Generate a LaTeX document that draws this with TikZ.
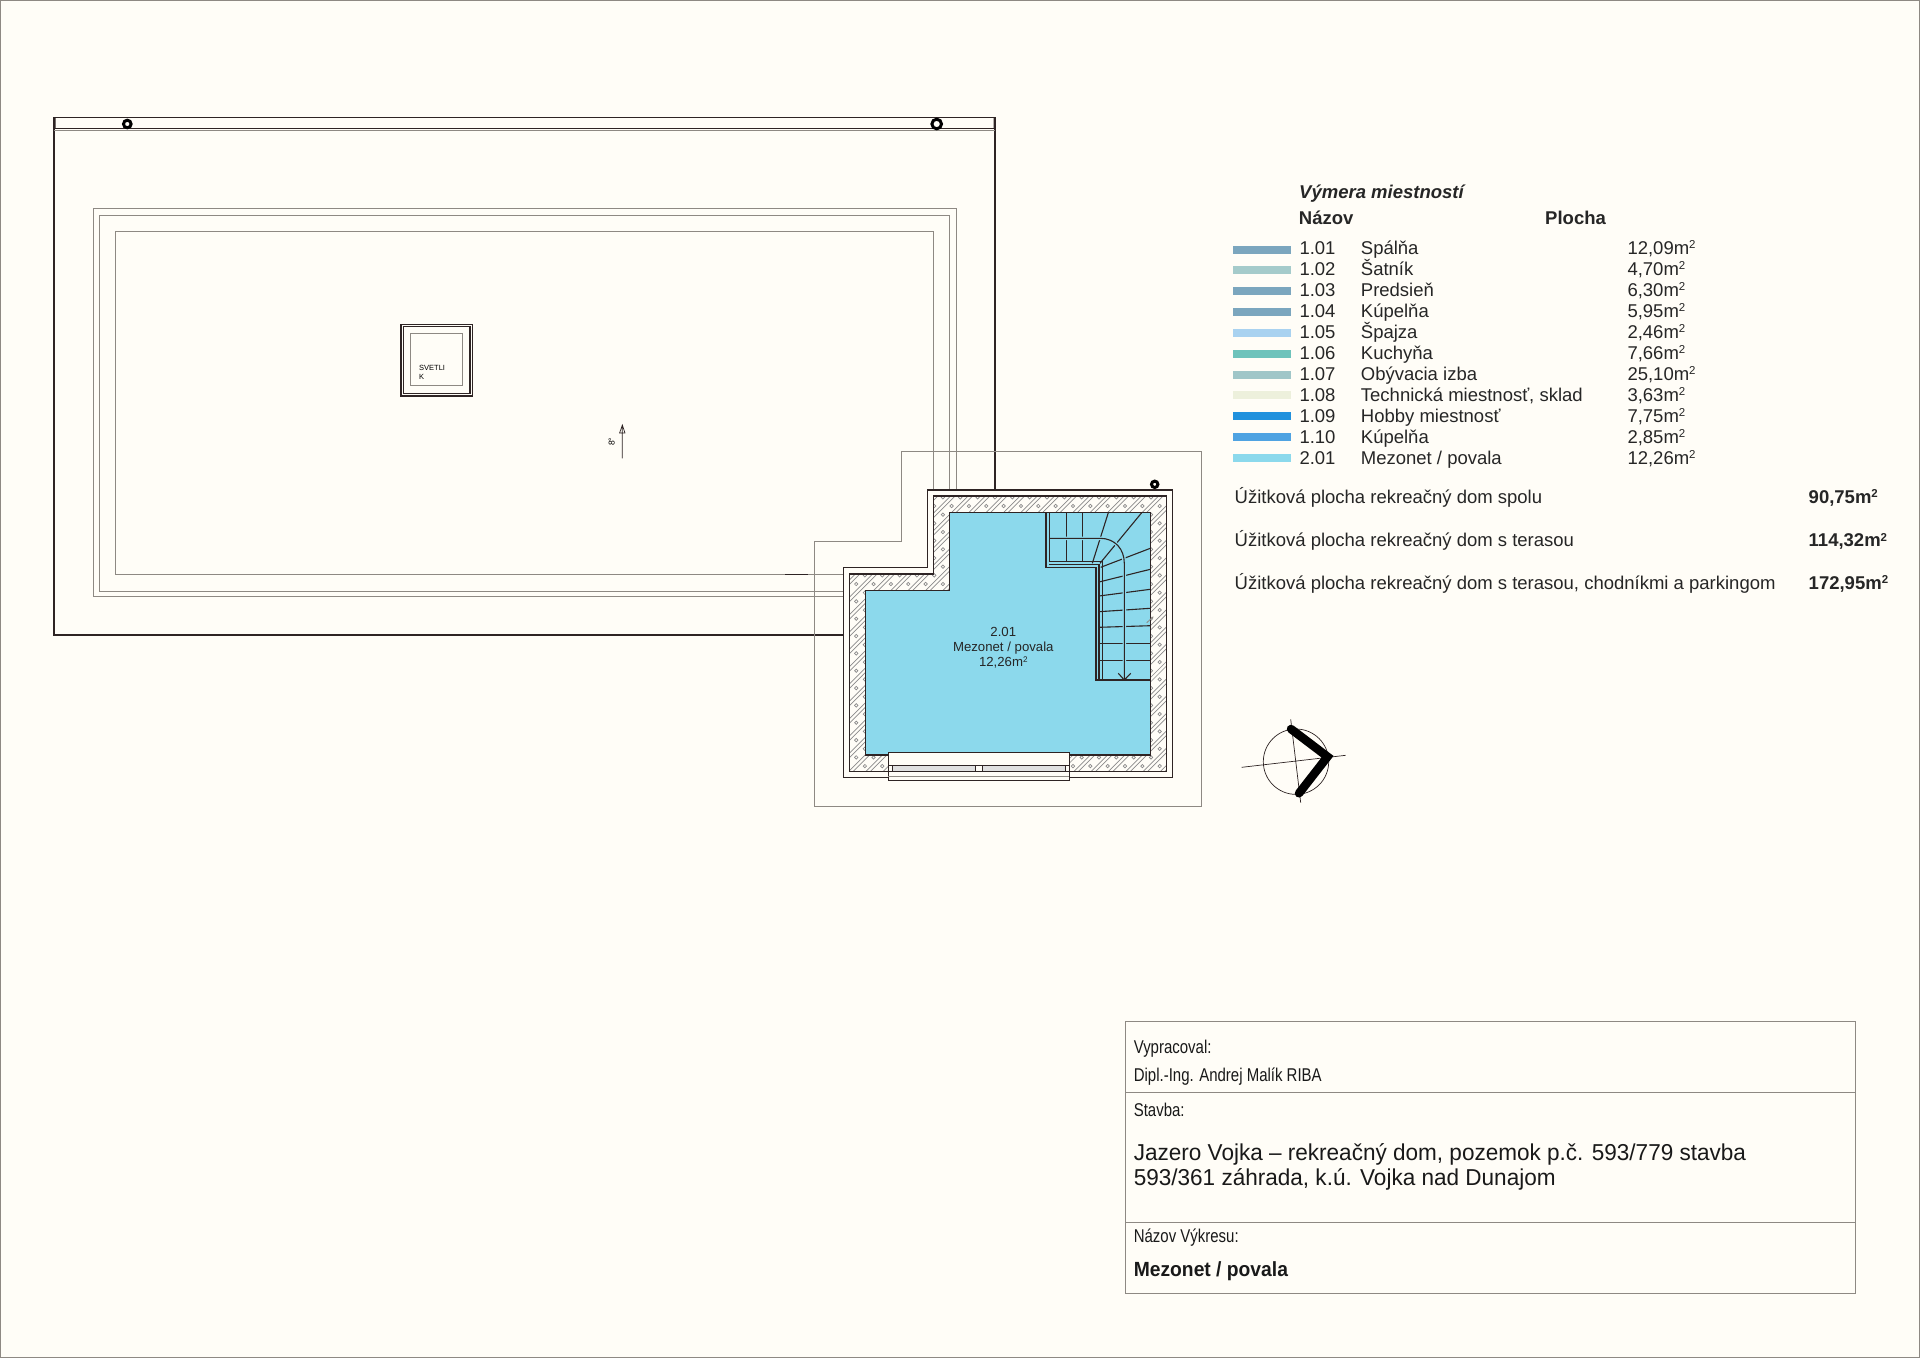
\documentclass[tikz,border=0pt]{standalone}
\usepackage{fontspec}
\setmainfont{Liberation Sans}
\newfontfamily\blockfont[FakeStretch=0.81]{Liberation Sans}
\newfontfamily\sitefont[FakeStretch=0.98]{Liberation Sans}
\newfontfamily\sheetfont[FakeStretch=0.94]{Liberation Sans}
\definecolor{paper}{HTML}{FFFDF7}
\definecolor{ink}{HTML}{2E2424}
\definecolor{thingray}{HTML}{8E8983}
\definecolor{roomblue}{HTML}{8CD9EC}
\definecolor{hatchgray}{HTML}{8A8A8A}
\definecolor{sw1}{HTML}{7BA6BE}
\definecolor{sw2}{HTML}{A5CBCB}
\definecolor{sw5}{HTML}{A9D2F0}
\definecolor{sw6}{HTML}{6EC3BB}
\definecolor{sw7}{HTML}{A0C6C8}
\definecolor{sw8}{HTML}{EDF0DC}
\definecolor{sw9}{HTML}{2191DD}
\definecolor{sw10}{HTML}{4FA3E2}
\tikzset{
	wallline/.style={draw=ink,line width=1.1pt},
	thinline/.style={draw=thingray,line width=1pt},
	tread/.style={draw=ink,line width=1.1pt},
	legendtext/.style={anchor=base west,inner sep=0pt,text=black!85,font=\fontsize{18.5}{20}\selectfont},
	legendhead/.style={legendtext,font=\fontsize{18.5}{20}\selectfont\bfseries},
	blocktext/.style={anchor=base west,inner sep=0pt,text=black!90,font=\fontsize{18.5}{20}\blockfont},
	sitetext/.style={anchor=base west,inner sep=0pt,text=black!90,font=\fontsize{23}{26}\sitefont},
	roomtext/.style={anchor=base,inner sep=0pt,text=black!85,font=\fontsize{13.2}{15}\selectfont},
	swatch/.style={line width=8pt},
	pipe/.style={draw=black,line width=3pt,fill=paper}
}
\newcommand{\sqm}{m\raisebox{.3em}{\scalebox{.62}{2}}}
\begin{document}
\begin{tikzpicture}[x=1pt,y=-1pt]
\useasboundingbox (0,0) rectangle (1920,1358);
\fill[paper] (0,0) rectangle (1920,1358);
\draw[draw=thingray,line width=1.2pt] (0.6,0.6) rectangle (1919.4,1357.4);
% roof
\draw[wallline] (843.3,635) -- (54,635) -- (54,117.3) -- (995,117.3) -- (995,490);
\draw[wallline] (54,128.3) -- (995,128.3);
\draw[thinline] (54,130.6) -- (995,130.6);
\fill[ink] (54,117.3) rectangle (55.6,128.3) (993.6,117.3) rectangle (995.6,128.3);
\draw[thinline] (843.3,596) -- (93.3,596) -- (93.3,208.3) -- (956,208.3) -- (956,490);
\draw[thinline] (843.3,591) -- (99.3,591) -- (99.3,215.7) -- (949.7,215.7) -- (949.7,490);
\draw[thinline] (843.3,574.3) -- (115.7,574.3) -- (115.7,231.3) -- (933.7,231.3) -- (933.7,490);
\draw[wallline,line width=1pt] (785,574.3) -- (808,574.3);
\draw[pipe] (127.3,124) circle (3.8);
\draw[pipe] (936.7,124) circle (4.8);
\draw[pipe] (1154.7,484.3) circle (3.2);
% skylight
\draw[wallline,line width=1.6pt] (400.7,324.3) rectangle (472.3,396.2);
\draw[wallline] (403.3,326.7) rectangle (470,393.3);
\draw[thinline] (410.7,333.3) rectangle (462.3,385.7);
\node[anchor=base west,inner sep=0pt,font=\fontsize{7.5}{9}\selectfont] (svetlik1) at (419,370) {SVETLI};
\node[anchor=base west,inner sep=0pt,font=\fontsize{7.5}{9}\selectfont] (svetlik2) at (419,379) {K};
% slope
\draw[draw=ink,line width=.7pt] (622.3,458.3) -- (622.3,425) (619.6,433) -- (622.3,425) -- (625,433) -- cycle;
\node[rotate=90,inner sep=0pt,font=\fontsize{8.5}{9}\selectfont] (slope) at (611.7,441.7) {8°};
% outer line of the mezzanine
\draw[thinline] (901.3,451.3) -- (1201.7,451.3) -- (1201.7,806.7) -- (814,806.7) -- (814,541.7) -- (901.3,541.7) -- cycle;
% walls and hatch
\draw[wallline,fill=paper,line width=1.4pt] (843.3,567.7) -- (927.7,567.7) -- (927.7,490) -- (1172.7,490) -- (1172.7,777.7) -- (843.3,777.7) -- cycle;
\begin{scope}
\clip (849.3,574) -- (933.7,574) -- (933.7,496) -- (1166.7,496) -- (1166.7,771.7) -- (849.3,771.7) -- cycle;
\foreach \k in {-12,...,23}
	\foreach \d in {6.4,10.9}
		\draw[draw=hatchgray,line width=.7pt] ({1544.3+17.33*\k+\d-790},790) -- ({1544.3+17.33*\k+\d-490},490);
\foreach \i in {-22,...,15}
	\foreach \j in {-2,...,32}{
		\pgfmathparse{int(mod(abs(\i+\j),2))}
		\ifnum\pgfmathresult=0
			\draw[draw=hatchgray,line width=.7pt] ({1038.3+8.67*\i},{506+8.67*\j}) circle (1.7);
		\fi
	}
\end{scope}
\draw[wallline] (849.3,574) -- (933.7,574) -- (933.7,496) -- (1166.7,496) -- (1166.7,771.7) -- (849.3,771.7) -- cycle;
\draw[wallline,fill=roomblue] (949.7,512.7) -- (1150.3,512.7) -- (1150.3,755) -- (865.7,755) -- (865.7,590.3) -- (949.7,590.3) -- cycle;
% stairs
\draw[tread] (1066.3,512.7) -- (1066.3,561.7);
\draw[tread] (1082.7,512.7) -- (1082.7,561.7);
\draw[tread] (1108.3,512.7) -- (1092.3,563.3);
\draw[tread] (1141.7,512.7) -- (1100,563.3);
\draw[tread] (1150.3,548.3) -- (1100.7,567.3);
\draw[tread] (1150.3,569.3) -- (1099,582);
\draw[tread] (1150.3,589.3) -- (1099,596);
\draw[tread] (1150.3,608.3) -- (1099,611.7);
\draw[tread] (1150.3,625.7) -- (1099,627.3);
\draw[tread] (1150.3,643.3) -- (1099,643.3);
\draw[tread] (1150.3,660.3) -- (1099,660.3);
\draw[draw=roomblue,line width=3.6pt] (1049.3,538.3) -- (1100,538.3) .. controls (1115,538.3) and (1124.3,549) .. (1124.3,563.3) -- (1124.3,675);
\draw[tread] (1049.3,538.3) -- (1100,538.3) .. controls (1115,538.3) and (1124.3,549) .. (1124.3,563.3) -- (1124.3,680);
\draw[tread] (1118.3,673.3) -- (1124.3,680) -- (1130.7,673.3);
\draw[wallline,line width=1.6pt] (1046,512.7) -- (1046,567.3) -- (1095.7,567.3) -- (1095.7,680) -- (1150.3,680);
\draw[wallline] (1049.3,512.7) -- (1049.3,561.7) -- (1102.3,561.7) -- (1102.3,680);
\draw[wallline] (1049.3,564.3) -- (1099,564.3) -- (1099,680);
\draw[draw=thingray,line width=.8pt] (1146.7,622.7) -- (1153.3,616.7);
% window
\draw[wallline,fill=paper] (888.3,752.5) rectangle (1069.3,780.3);
\draw[wallline,fill=black!12,line width=1pt] (888.3,765.7) rectangle (1069.3,771.8);
\draw[thinline] (888.3,776.7) -- (1069.3,776.7);
\draw[wallline,line width=1pt,fill=paper] (888.3,765.7) rectangle (892.7,771.8);
\draw[wallline,line width=1pt,fill=paper] (1065,765.7) rectangle (1069.3,771.8);
\draw[wallline,line width=1pt,fill=paper] (975.7,765.7) rectangle (982.3,771.8);
% room label
\node[roomtext] (roomnum) at (1003.3,636) {2.01};
\node[roomtext] (roomname) at (1003.3,651.7) {Mezonet / povala};
\node[roomtext] (roomarea) at (1003.3,666.7) {12,26\sqm};
% north sign
\draw[draw=ink,line width=.7pt] (1296,761.7) circle (32.7);
\draw[draw=ink,line width=.7pt] (1241.7,767.3) -- (1345.7,755.3) (1290.7,719.3) -- (1300.7,802.7);
\draw[line width=8.5pt,line cap=round] (1291,729) -- (1327.5,756.7) -- (1299,793.3);
% legend
\node[legendhead,font=\fontsize{18.5}{20}\selectfont\bfseries\itshape] (legendtitle) at (1299,198) {Výmera miestností};
\node[legendhead] (legendname) at (1298.7,224) {Názov};
\node[legendhead] (legendarea) at (1545,224) {Plocha};
\foreach \n/\col/\num/\name/\area [count=\r from 0] in {
	a/sw1/1.01/Spálňa/{12,09\sqm},
	b/sw2/1.02/Šatník/{4,70\sqm},
	c/sw1/1.03/Predsieň/{6,30\sqm},
	d/sw1/1.04/Kúpelňa/{5,95\sqm},
	e/sw5/1.05/Špajza/{2,46\sqm},
	f/sw6/1.06/Kuchyňa/{7,66\sqm},
	g/sw7/1.07/Obývacia izba/{25,10\sqm},
	h/sw8/1.08/{Technická miestnosť, sklad}/{3,63\sqm},
	i/sw9/1.09/Hobby miestnosť/{7,75\sqm},
	j/sw10/1.10/Kúpelňa/{2,85\sqm},
	k/roomblue/2.01/{Mezonet / povala}/{12,26\sqm}}{
	\draw[swatch,draw=\col] (1233.3,{249.5+20.85*\r}) -- (1291.3,{249.5+20.85*\r});
	\node[legendtext] (num\n) at (1299.3,{254.3+20.97*\r}) {\num};
	\node[legendtext] (name\n) at (1360.7,{254.3+20.97*\r}) {\name};
	\node[legendtext] (area\n) at (1627.3,{254.3+20.97*\r}) {\area};
}
\node[legendtext] (sum1) at (1234.5,503.3) {Úžitková plocha rekreačný dom spolu};
\node[legendhead] (val1) at (1808.5,503.3) {90,75\sqm};
\node[legendtext] (sum2) at (1234.5,546.7) {Úžitková plocha rekreačný dom s terasou};
\node[legendhead] (val2) at (1808.5,546.7) {114,32\sqm};
\node[legendtext] (sum3) at (1234.5,589) {Úžitková plocha rekreačný dom s terasou, chodníkmi a parkingom};
\node[legendhead] (val3) at (1808.5,589) {172,95\sqm};
% title block
\draw[thinline] (1125.8,1021.7) rectangle (1855.3,1293.3);
\draw[thinline] (1125.8,1092.3) -- (1855.3,1092.3);
\draw[thinline] (1125.8,1222) -- (1855.3,1222);
\node[blocktext] (drawnby) at (1133.6,1053.3) {Vypracoval:};
\node[blocktext] (author) at (1133.6,1081.7) {Dipl.-Ing. Andrej Malík RIBA};
\node[blocktext] (sitehead) at (1133.6,1116.7) {Stavba:};
\node[sitetext] (site1) at (1133.6,1160) {Jazero Vojka – rekreačný dom, pozemok p.č. 593/779 stavba};
\node[sitetext] (site2) at (1133.6,1185.7) {593/361 záhrada, k.ú. Vojka nad Dunajom};
\node[blocktext] (sheethead) at (1133.6,1242.7) {Názov Výkresu:};
\node[blocktext,font=\fontsize{20.5}{22}\sheetfont\bfseries] (sheet) at (1133.6,1276.7) {Mezonet / povala};
\end{tikzpicture}
\end{document}
